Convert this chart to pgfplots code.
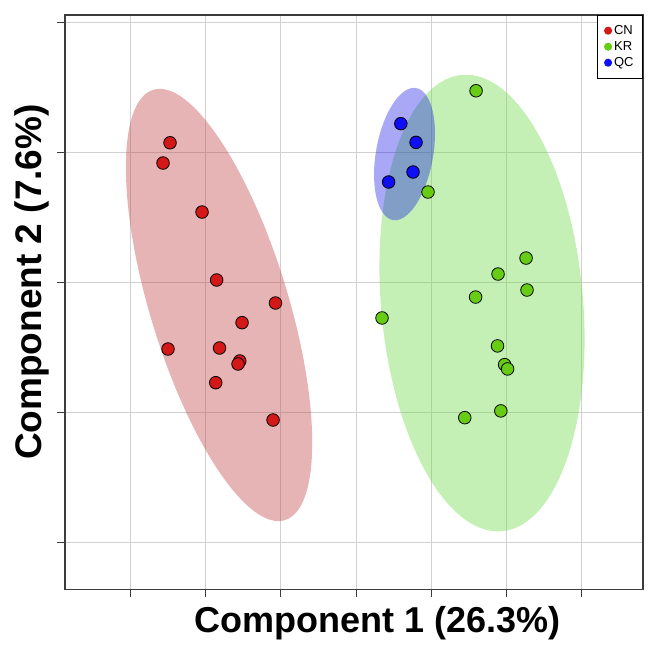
\documentclass[border=0pt]{standalone}
\usepackage{pgfplots}
\pgfplotsset{compat=1.18}
\usepackage{fontspec}
\setmainfont{Liberation Sans}
\definecolor{cnred}{RGB}{212,24,24}
\definecolor{krgreen}{RGB}{102,205,20}
\definecolor{qcblue}{RGB}{15,15,245}
\definecolor{ellred}{RGB}{192,68,68}
\definecolor{ellgreen}{RGB}{110,218,70}
\definecolor{ellblue}{RGB}{0,0,230}
\definecolor{gridgray}{RGB}{208,208,208}
\definecolor{axisgray}{RGB}{60,60,60}
\begin{document}
\begin{tikzpicture}
\begin{axis}[
  scale only axis, width=578pt, height=574.5pt,
  xmin=-3.865, xmax=3.811, ymin=-2.362, ymax=2.058,
  xtick={-3,-2,-1,0,1,2,3}, ytick={-2,-1,0,1,2},
  xticklabels={}, yticklabels={},
  xtick pos=left, ytick pos=left,
  tick align=outside, major tick length=7.5pt,
  every tick/.style={axisgray, line width=1pt},
  axis line style={axisgray, line width=1.3pt},
  grid=major, major grid style={gridgray, line width=1pt},
  xlabel={Component 1 (26.3\%)},
  ylabel={Component 2 (7.6\%)},
  xlabel style={at={(axis description cs:0.54,-0.0757)}, anchor=base, font=\bfseries\fontsize{36}{36}\selectfont},
  ylabel style={at={(axis description cs:-0.040,0.535)}, anchor=base, font=\bfseries\fontsize{37}{37}\selectfont},
  legend style={at={(axis description cs:1,1)}, anchor=north east, draw=black, line width=0.8pt,
    font=\fontsize{13}{13}\selectfont, row sep=1.5pt, inner xsep=7pt, inner ysep=8pt,
    cells={anchor=west}},
]
\fill[ellgreen, fill opacity=0.4] (axis cs:1.673,-0.158) ellipse [x radius=229pt, y radius=101pt, rotate=-85];
\fill[ellblue, fill opacity=0.34] (axis cs:0.644,0.988) ellipse [x radius=67pt, y radius=28.6pt, rotate=80];
\fill[ellred, fill opacity=0.4] (axis cs:-1.819,-0.173) ellipse [x radius=225pt, y radius=69pt, rotate=-73];

\addplot[only marks, mark=*, mark size=6.3pt, mark options={draw=black, line width=0.8pt, fill=cnred},
  legend image code/.code={\fill[cnred] (0.3em,0) circle (3.6pt);}]
  coordinates {
  (-2.470,1.075) (-2.563,0.919) (-2.045,0.542) (-1.851,0.019) (-1.070,-0.158)
  (-1.514,-0.309) (-2.497,-0.512) (-1.813,-0.504) (-1.544,-0.604) (-1.567,-0.627)
  (-1.863,-0.771) (-1.102,-1.058)};
\addlegendentry{CN}
\addplot[only marks, mark=*, mark size=6.3pt, mark options={draw=black, line width=0.8pt, fill=krgreen},
  legend image code/.code={\fill[krgreen] (0.3em,0) circle (3.6pt);}]
  coordinates {
  (1.594,1.475) (0.956,0.696) (2.258,0.188) (1.886,0.065) (2.271,-0.058)
  (1.588,-0.112) (0.345,-0.273) (1.879,-0.488) (1.973,-0.632) (2.013,-0.665)
  (1.923,-0.988) (1.444,-1.040)};
\addlegendentry{KR}
\addplot[only marks, mark=*, mark size=6.3pt, mark options={draw=black, line width=0.8pt, fill=qcblue},
  legend image code/.code={\fill[qcblue] (0.3em,0) circle (3.6pt);}]
  coordinates {
  (0.595,1.222) (0.797,1.078) (0.757,0.850) (0.433,0.773)};
\addlegendentry{QC}
\end{axis}
\path ([xshift=-65pt,yshift=-66.5pt]current axis.south west) rectangle ([xshift=13pt,yshift=15pt]current axis.north east);
\end{tikzpicture}
\end{document}
